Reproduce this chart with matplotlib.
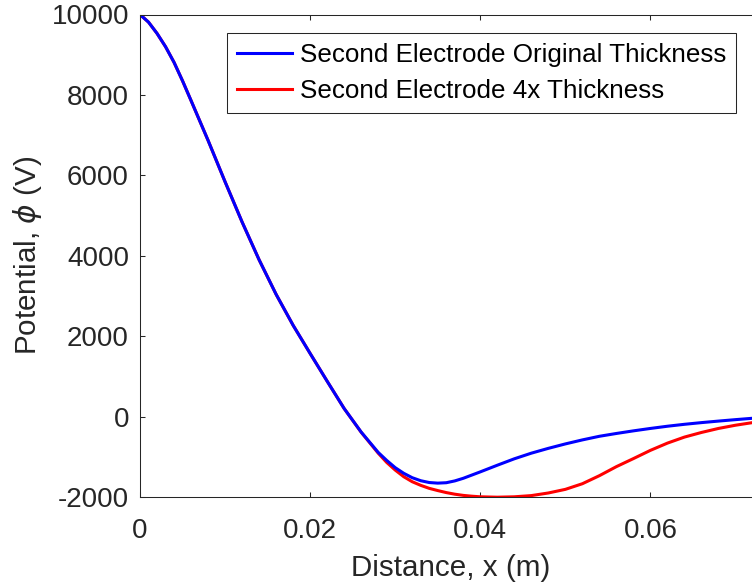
import matplotlib
matplotlib.use('Agg')
import matplotlib.pyplot as plt

# distance along the device (m)
distance = [0.000, 0.001, 0.002, 0.003, 0.004, 0.005, 0.006, 0.008, 0.010, 0.012,
            0.014, 0.016, 0.018, 0.020, 0.022, 0.024, 0.026, 0.028, 0.029, 0.030,
            0.031, 0.032, 0.033, 0.034, 0.035, 0.036, 0.037, 0.038, 0.039, 0.040,
            0.042, 0.044, 0.046, 0.048, 0.050, 0.052, 0.054, 0.056, 0.058, 0.060,
            0.062, 0.064, 0.066, 0.068, 0.070, 0.072, 0.073]

# potential (V), second electrode original thickness
phi_original = [10000, 9810, 9530, 9200, 8810, 8350, 7860, 6870, 5840, 4840,
                3900, 3040, 2270, 1570, 880, 200, -385, -890, -1090, -1270,
                -1410, -1520, -1595, -1640, -1655, -1645, -1600, -1535, -1455, -1375,
                -1210, -1050, -910, -790, -680, -580, -490, -420, -355, -295,
                -240, -192, -150, -112, -76, -42, -30]

# potential (V), second electrode 4x thickness
phi_thick = [10000, 9810, 9530, 9200, 8810, 8350, 7860, 6870, 5840, 4840,
             3900, 3040, 2270, 1570, 880, 200, -390, -910, -1140, -1330,
             -1495, -1620, -1710, -1785, -1840, -1890, -1930, -1960, -1980, -1995,
             -2005, -1995, -1965, -1900, -1810, -1670, -1470, -1245, -1045, -840,
             -660, -510, -395, -295, -215, -150, -122]

axis_color = '#262626'
plt.rcParams['font.family'] = ['Liberation Sans', 'DejaVu Sans']
plt.rcParams['mathtext.fontset'] = 'dejavusans'
plt.rcParams['font.size'] = 20

fig = plt.figure(figsize=(7.52, 5.88), dpi=100)
# axes runs slightly past the right edge of the picture (cropped like the original)
ax = fig.add_axes([140 / 752, 1 - 497 / 588, 621 / 752, 482.5 / 588])

ax.plot(distance, phi_thick, color='red', linewidth=2.2, solid_joinstyle='round',
        label='Second Electrode 4x Thickness')
ax.plot(distance, phi_original, color='blue', linewidth=2.2, solid_joinstyle='round',
        label='Second Electrode Original Thickness')

ax.set_xlim(0, 0.073)
ax.set_ylim(-2000, 10000)
ax.set_xticks([0, 0.02, 0.04, 0.06])
ax.set_xticklabels(['0', '0.02', '0.04', '0.06'])
ax.set_yticks([-2000, 0, 2000, 4000, 6000, 8000, 10000])
ax.set_yticklabels(['-2000', '0', '2000', '4000', '6000', '8000', '10000'])

for side in ax.spines.values():
    side.set_color(axis_color)
    side.set_linewidth(0.75)
ax.tick_params(direction='in', length=3.3, width=0.75, colors=axis_color,
               top=True, right=True, labelsize=20)
ax.tick_params(axis='x', pad=15)
ax.tick_params(axis='y', pad=8)

ax.set_xlabel('Distance, x (m)', color=axis_color, fontsize=21.3, labelpad=7)
ax.set_ylabel(r'Potential, $\phi$ (V)', color=axis_color, fontsize=21.3, labelpad=5)

handles, labels = ax.get_legend_handles_labels()
leg = ax.legend(handles[::-1], labels[::-1], loc='upper left',
                bbox_to_anchor=(87 / 621, 1 - 18.5 / 482.5),
                fontsize=18.7, frameon=True, fancybox=False, framealpha=1,
                edgecolor=axis_color, borderpad=0.4, labelspacing=0.45,
                handlelength=2.1, handletextpad=0.3, borderaxespad=0)
leg.get_frame().set_linewidth(0.75)
for text in leg.get_texts():
    text.set_color('black')

fig.savefig('out.png', dpi=100)
